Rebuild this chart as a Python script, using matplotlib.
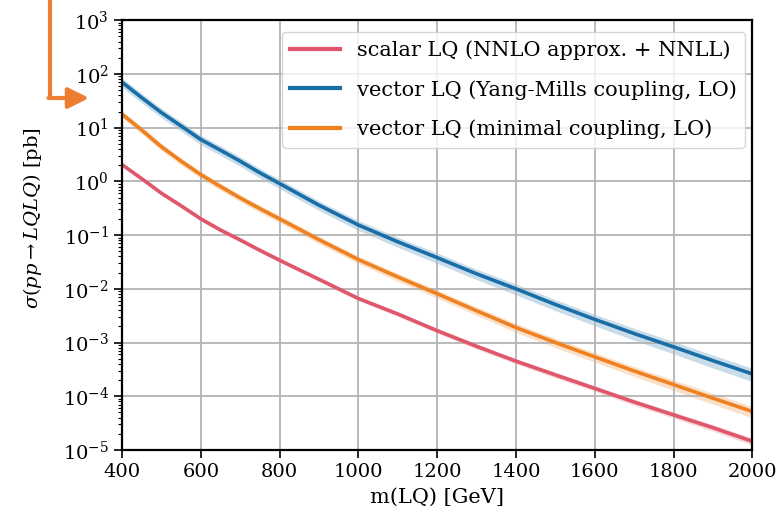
import numpy as np
import matplotlib
matplotlib.use('Agg')
import matplotlib.pyplot as plt
from matplotlib.lines import Line2D

# ── Cross sections vs leptoquark mass [pb] ─────────────────────────────────
MASS = [400, 450, 500, 550, 600, 650, 700, 750, 800, 900, 1000,
        1100, 1200, 1300, 1400, 1500, 1600, 1700, 1800, 1900, 2000]

xs_scalar = [2.04, 1.12, 0.60, 0.35, 0.20, 0.124, 0.081, 0.052, 0.034, 0.0150, 0.0066,
             0.0034, 0.00166, 8.5e-4, 4.5e-4, 2.5e-4, 1.4e-4, 7.8e-5, 4.5e-5, 2.6e-5, 1.45e-5]
xs_vec_ym = [70.0, 36.0, 19.0, 10.7, 6.0, 3.8, 2.37, 1.44, 0.91, 0.36, 0.154,
             0.075, 0.038, 0.019, 0.010, 0.0051, 2.7e-3, 1.47e-3, 8.3e-4, 4.6e-4, 2.6e-4]
xs_vec_min = [17.8, 9.0, 4.4, 2.37, 1.33, 0.80, 0.49, 0.31, 0.20, 0.082, 0.035,
              0.0166, 0.0081, 0.0039, 0.0019, 1.0e-3, 5.4e-4, 2.95e-4, 1.65e-4, 9.2e-5, 5.2e-5]

# relative uncertainty (half-width of the band)
unc_scalar = [0.08] * 9 + [0.09, 0.09, 0.10, 0.10, 0.11, 0.11, 0.12, 0.12, 0.13, 0.13, 0.14, 0.15]
unc_vec_ym = [0.20] * 9 + [0.20, 0.21, 0.21, 0.22, 0.22, 0.23, 0.23, 0.24, 0.25, 0.26, 0.27, 0.28]
unc_vec_min = [0.15] * 9 + [0.16, 0.16, 0.17, 0.17, 0.18, 0.19, 0.20, 0.20, 0.21, 0.22, 0.23, 0.24]

LABELS = ['scalar LQ (NNLO approx. + NNLL)',
          'vector LQ (Yang-Mills coupling, LO)',
          'vector LQ (minimal coupling, LO)']
COLORS = ['#e0566b', '#1a6ea8', '#ef8120']

plt.rcParams.update({
    'font.family': 'serif', 'font.serif': ['DejaVu Serif'],
    'mathtext.fontset': 'dejavuserif', 'font.size': 14,
})

fig = plt.figure(figsize=(7.78, 5.19), dpi=100)
ax = fig.add_axes([0.157, 0.133, 0.810, 0.828])

m = np.array(MASS)
for xs, unc, col, lab in zip([xs_scalar, xs_vec_ym, xs_vec_min],
                             [unc_scalar, unc_vec_ym, unc_vec_min],
                             COLORS, LABELS):
    xs = np.array(xs); unc = np.array(unc)
    ax.fill_between(m, xs * (1 - unc), xs * (1 + unc), color=col, alpha=0.24, lw=0)
    ax.plot(m, xs, color=col, lw=2.6, label=lab)

ax.set_yscale('log')
ax.set_xlim(400, 2000)
ax.set_ylim(1e-5, 1e3)
ax.set_xticks(np.arange(400, 2001, 200))
ax.set_yticks([10.0**k for k in range(-5, 4)])
ax.grid(True, which='major', color='#b4b4b4', lw=1.3)
ax.tick_params(which='major', length=6, width=1.2)
ax.tick_params(which='minor', length=3, width=0.8)
for s in ax.spines.values():
    s.set_linewidth(1.6)

ax.set_xlabel('m(LQ) [GeV]', fontsize=15, labelpad=5)
ax.set_ylabel(r'$\sigma(pp \rightarrow LQLQ)$ [pb]')
ax.yaxis.set_label_coords(-0.124, 0.54)

leg = ax.legend(loc='upper right', bbox_to_anchor=(0.988, 0.972), fontsize=15,
                handlelength=2.4, handletextpad=0.8, borderaxespad=0.0,
                labelspacing=0.95, framealpha=0.8)
for h in leg.get_lines():
    h.set_linewidth(3)

# orange pointer at the top left
orange = '#ed7d31'
fig.add_artist(Line2D([50, 50], [519, 421], transform=None, color=orange, lw=3,
                      solid_capstyle='butt', solid_joinstyle='miter'))
ax.annotate('', xy=(89, 421), xycoords='figure pixels',
            xytext=(48.5, 421), textcoords='figure pixels',
            arrowprops=dict(arrowstyle='-|>,head_length=0.9,head_width=0.45',
                            color=orange, lw=3, shrinkA=0, shrinkB=0))

fig.savefig('out.png', dpi=100, facecolor='white')
